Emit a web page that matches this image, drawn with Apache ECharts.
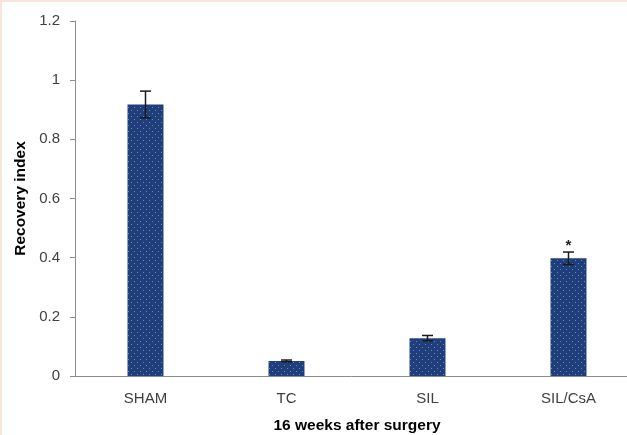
<!DOCTYPE html>
<html>
<head>
<meta charset="utf-8">
<style>
  html, body { margin: 0; padding: 0; background: #f8e5dc; }
  #chart { position: absolute; left: 2px; top: 2px; width: 625px; height: 433px; background: #ffffff; }
</style>
<script src="https://cdn.jsdelivr.net/npm/echarts@6/dist/echarts.min.js"></script>
</head>
<body>
<div id="chart"></div>
<script>
// Recovery index at 16 weeks after surgery, per group (mean and error)
var categories = ['SHAM', 'TC', 'SIL', 'SIL/CsA'];
var meanValues = [0.918, 0.051, 0.128, 0.398];
var errValues = [0.045, 0.003, 0.009, 0.021];
var significance = ['', '', '', '*'];
var yTicks = [0, 0.2, 0.4, 0.6, 0.8, 1, 1.2];

var FONT = '"Liberation Sans", Arial, sans-serif';
var chart = echarts.init(document.getElementById('chart'));

var errorData = categories.map(function (c, i) {
  return [i, meanValues[i], errValues[i]];
});

chart.setOption({
  animation: false,
  backgroundColor: '#ffffff',
  grid: { left: 73, top: 19, bottom: 59, width: 564, containLabel: false, outerBoundsMode: 'none' },
  xAxis: {
    type: 'category',
    data: categories,
    name: '16 weeks after surgery',
    nameLocation: 'middle',
    nameGap: 42,
    nameTextStyle: { fontFamily: FONT, fontSize: 15.5, fontWeight: 'bold', color: '#000000' },
    axisLine: { lineStyle: { color: '#8c8c8c', width: 1 } },
    axisTick: { show: false },
    axisLabel: { margin: 15, fontFamily: FONT, fontSize: 15, color: '#404040' }
  },
  yAxis: {
    type: 'value',
    min: 0,
    max: 1.2,
    interval: 0.2,
    name: 'Recovery index',
    nameLocation: 'middle',
    nameGap: 46,
    nameTextStyle: { fontFamily: FONT, fontSize: 15.5, fontWeight: 'bold', color: '#000000' },
    splitLine: { show: false },
    axisLine: { show: true, lineStyle: { color: '#8c8c8c', width: 1 } },
    axisTick: { show: true, inside: false, length: 5, lineStyle: { color: '#8c8c8c' } },
    axisLabel: {
      margin: 15, fontFamily: FONT, fontSize: 15, color: '#404040',
      formatter: function (v) {
        var t = yTicks.filter(function (k) { return Math.abs(k - v) < 1e-9; });
        return t.length ? String(t[0]) : '';
      }
    }
  },
  series: [
    {
      type: 'bar',
      data: meanValues,
      barWidth: '25.5%',
      itemStyle: {
        color: '#1f3e7a',
        decal: {
          symbol: 'rect',
          symbolSize: 1,
          color: 'rgba(125,165,225,0.7)',
          dashArrayX: [[1, 5], [0, 3, 1, 2]],
          dashArrayY: [1, 2],
          rotation: 0
        }
      }
    },
    {
      type: 'custom',
      data: errorData,
      z: 10,
      renderItem: function (params, api) {
        var x = api.value(0);
        var m = api.value(1);
        var e = api.value(2);
        var mark = significance[params.dataIndex];
        var hi = api.coord([x, m + e]);
        var lo = api.coord([x, m - e]);
        var cap = 5.5;
        var lineStyle = { stroke: '#1a1a1a', lineWidth: 1.5 };
        var children = [
          { type: 'line', shape: { x1: hi[0], y1: hi[1], x2: lo[0], y2: lo[1] }, style: lineStyle },
          { type: 'line', shape: { x1: hi[0] - cap, y1: hi[1], x2: hi[0] + cap, y2: hi[1] }, style: lineStyle },
          { type: 'line', shape: { x1: lo[0] - cap, y1: lo[1], x2: lo[0] + cap, y2: lo[1] }, style: lineStyle }
        ];
        if (mark) {
          children.push({
            type: 'text',
            x: hi[0],
            y: hi[1] + 1,
            style: { text: mark, font: 'bold 15px ' + FONT, fill: '#222222', align: 'center', verticalAlign: 'bottom' }
          });
        }
        return { type: 'group', children: children };
      }
    }
  ]
});
</script>
</body>
</html>
